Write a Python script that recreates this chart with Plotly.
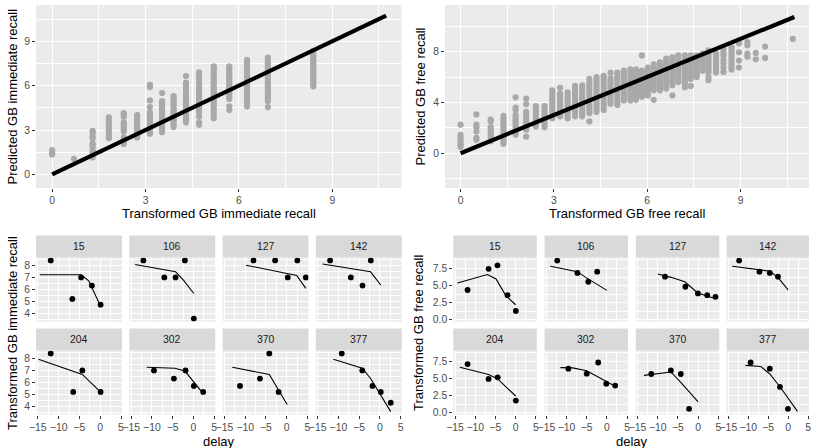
import plotly.graph_objects as go

# ---------------- data ----------------
identity_line = [0, 10.73]

imm_cols_x = [0.0, 0.7, 1.3, 1.82, 2.3, 2.73, 3.14, 3.53, 3.9, 4.3, 4.72, 5.19, 5.69, 6.26, 6.93, 8.39]
imm_cols_y = [
    [1.35, 1.45, 1.55, 1.65],
    [1.05],
    [1.15, 1.3, 1.5, 1.65, 1.85, 2.0, 2.1, 2.45, 2.55, 2.8, 2.95],
    [2.45, 2.6, 2.8, 3.0, 3.15, 3.3, 3.5, 3.65, 3.85],
    [2.05, 2.2, 2.35, 2.5, 2.9, 3.05, 3.2, 3.35, 3.5, 3.9, 4.05, 4.15],
    [2.5, 2.65, 2.8, 2.95, 3.1, 3.25, 3.4, 3.55, 3.7, 3.85, 4.0],
    [2.75, 2.9, 3.05, 3.2, 3.35, 3.5, 3.65, 3.8, 3.95, 4.1, 4.2, 4.55, 5.0, 5.9, 6.05],
    [2.85, 3.0, 3.15, 3.3, 3.45, 3.6, 3.75, 3.9, 4.05, 4.2, 4.35, 4.5, 4.65, 4.8, 4.95, 5.5],
    [3.2, 3.35, 3.5, 3.65, 3.8, 3.95, 4.1, 4.25, 4.4, 4.55, 4.7, 4.85, 5.0, 5.15, 5.3],
    [3.5, 3.65, 3.8, 3.95, 4.1, 4.25, 4.4, 4.55, 4.7, 4.85, 5.0, 5.15, 5.3, 5.5, 5.7, 5.85, 6.0, 6.2, 6.65],
    [3.35, 3.5, 3.9, 4.2, 4.35, 4.5, 4.65, 4.8, 4.95, 5.1, 5.25, 5.4, 5.55, 5.7, 5.85, 6.0, 6.2, 6.45, 6.7, 6.9],
    [3.8, 3.95, 4.15, 4.35, 4.5, 4.65, 4.8, 4.95, 5.1, 5.25, 5.4, 5.55, 5.7, 5.85, 6.0, 6.15, 6.3, 6.45,
     6.6, 6.75, 6.9, 7.05, 7.2, 7.3],
    [4.35, 4.6, 5.1, 5.25, 5.4, 5.55, 5.7, 5.85, 6.0, 6.15, 6.3, 6.45, 6.6, 6.75, 6.9, 7.05, 7.2, 7.3],
    [4.6, 4.75, 4.9, 5.05, 5.2, 5.35, 5.5, 5.65, 5.8, 5.95, 6.1, 6.25, 6.4, 6.55, 6.7, 6.85, 7.0, 7.15,
     7.3, 7.45, 7.6, 7.75],
    [4.55, 4.95, 5.1, 5.25, 5.4, 5.55, 5.7, 5.85, 6.0, 6.15, 6.3, 6.45, 6.6, 6.75, 6.9, 7.05, 7.2, 7.35,
     7.5, 7.65, 7.8, 7.9],
    [5.95, 6.1, 6.25, 6.4, 6.55, 6.7, 6.85, 7.0, 7.15, 7.3, 7.45, 7.6, 7.75, 7.9, 8.05, 8.2, 8.35],
]

free_cols_x = [0.0, 0.51, 0.97, 1.38, 1.77, 2.11, 2.42, 2.70, 2.95, 3.20, 3.44, 3.68, 3.91, 4.14, 4.37,
               4.60, 4.82, 5.04, 5.25, 5.46, 5.64, 5.83, 6.02, 6.21, 6.41, 6.61, 6.81, 7.0, 7.21, 7.40,
               7.59, 7.78, 7.97, 8.21, 8.45, 8.71, 8.95, 9.22, 9.49, 9.79, 10.68]
free_cols_y = [
    [0.5, 0.7, 0.9, 1.05, 1.25, 1.45, 2.25],
    [1.05, 1.2, 1.7, 2.05, 2.25, 3.05],
    [0.95, 1.15, 1.3, 1.5, 1.7, 1.85, 2.05, 2.5, 2.65],
    [0.75, 0.95, 1.15, 1.35, 1.55, 1.75, 1.95, 2.15, 2.35, 2.55, 2.75, 2.95],
    [1.45, 1.65, 1.85, 2.05, 2.25, 2.45, 2.65, 2.85, 3.0, 3.4, 3.6, 4.4],
    [1.3, 1.85, 2.05, 2.25, 2.45, 2.65, 2.85, 3.05, 3.25, 3.85, 4.3],
    [2.1, 2.3, 2.5, 2.7, 2.9, 3.1, 3.3, 3.5, 3.7],
    [2.05, 2.3, 2.5, 2.7, 2.9, 3.1, 3.3, 3.5, 3.7],
    [2.75, 2.95, 3.15, 3.35, 3.55, 3.75, 3.95, 4.15, 4.35, 4.55, 4.75, 4.95],
    [2.9, 3.1, 3.3, 3.5, 3.7, 3.9, 4.1, 4.3, 4.5, 4.7, 5.15],
    [2.75, 2.95, 3.15, 3.35, 3.55, 3.75, 3.95, 4.15, 4.35, 4.55, 4.8],
    [2.9, 3.1, 3.3, 3.5, 3.7, 3.9, 4.1, 4.3, 4.5, 4.7, 4.9, 5.1, 5.3],
    [2.9, 3.15, 3.35, 3.55, 3.75, 3.95, 4.15, 4.35, 4.55, 4.75, 4.95, 5.15, 5.35],
    [2.5, 3.15, 3.35, 3.55, 3.75, 3.95, 4.15, 4.35, 4.55, 4.75, 4.95, 5.15, 5.35, 5.55, 5.85],
    [3.25, 3.45, 3.65, 3.85, 4.05, 4.25, 4.45, 4.65, 4.85, 5.05, 5.25, 5.45, 5.65, 5.85, 6.0],
    [3.4, 3.6, 3.8, 4.0, 4.2, 4.4, 4.6, 4.8, 5.0, 5.2, 5.4, 5.6, 5.8, 6.0, 6.1],
    [3.9, 4.1, 4.3, 4.5, 4.7, 4.9, 5.1, 5.3, 5.5, 5.7, 5.9, 6.35],
    [3.8, 4.0, 4.2, 4.4, 4.6, 4.8, 5.0, 5.2, 5.4, 5.6, 5.8, 6.0, 6.2, 6.35],
    [4.15, 4.35, 4.55, 4.75, 4.95, 5.15, 5.35, 5.55, 5.75, 5.95, 6.15, 6.35, 6.5],
    [4.15, 4.35, 4.55, 4.75, 4.95, 5.15, 5.35, 5.55, 5.75, 5.95, 6.15, 6.35, 6.6],
    [4.2, 4.4, 4.6, 4.8, 5.0, 5.2, 5.4, 5.6, 5.8, 6.0, 6.2, 6.4, 6.6],
    [4.45, 4.65, 4.85, 5.05, 5.25, 5.45, 5.65, 5.85, 6.05, 6.25, 6.5, 7.7],
    [4.55, 4.75, 4.95, 5.15, 5.35, 5.55, 5.75, 5.95, 6.15, 6.35, 6.55, 6.75],
    [4.2, 4.95, 5.15, 5.35, 5.55, 5.75, 5.95, 6.15, 6.35, 6.55, 6.75, 7.0],
    [4.95, 5.15, 5.35, 5.55, 5.75, 5.95, 6.15, 6.35, 6.55, 6.75, 6.95, 7.15],
    [5.1, 5.3, 5.5, 5.7, 5.9, 6.1, 6.3, 6.5, 6.7, 6.9, 7.1, 7.3, 7.45],
    [4.55, 5.35, 5.55, 5.75, 5.95, 6.15, 6.35, 6.55, 6.75, 6.95, 7.15, 7.35, 7.55],
    [5.6, 5.8, 6.0, 6.2, 6.4, 6.6, 6.8, 7.0, 7.2, 7.4, 7.7],
    [5.2, 5.45, 5.65, 5.85, 6.05, 6.25, 6.45, 6.65, 6.85, 7.05, 7.25, 7.45, 7.7],
    [5.3, 5.85, 6.05, 6.25, 6.45, 6.65, 6.85, 7.05, 7.25, 7.45, 7.7],
    [6.0, 6.2, 6.4, 6.6, 6.8, 7.0, 7.2, 7.4, 7.7],
    [6.5, 6.7, 6.9, 7.1, 7.3, 7.5, 7.7, 7.85],
    [5.75, 6.0, 6.35, 6.55, 6.75, 6.95, 7.15, 7.35, 7.55, 7.75, 7.95, 8.1],
    [6.35, 6.55, 6.75, 6.95, 7.15, 7.35, 7.55, 7.75, 7.85],
    [6.4, 6.75, 7.1, 7.35, 7.7, 7.95, 8.2],
    [6.6, 6.8, 7.0, 7.2, 7.4, 7.6, 7.8, 8.0, 8.2, 8.35],
    [6.75, 7.3, 7.95, 8.65],
    [7.6, 7.85, 8.5, 8.75],
    [7.4, 7.9],
    [7.5, 8.4],
    [9.0],
]

subjects = ["15", "106", "127", "142", "204", "302", "370", "377"]

imm_pt_delay = [
    [-11.9, -6.7, -4.6, -2.0, 0.1],
    [-12.05, -7.0, -4.3, -2.05, 0.1],
    [-8.0, -2.8, 0.25, 2.55, 4.6],
    [-12.0, -7.0, -4.2, -2.2],
    [-11.9, -6.5, -4.3, 0.1],
    [-9.5, -4.7, -1.9, 0.1, 2.35],
    [-11.25, -6.45, -4.2, -1.95],
    [-9.2, -4.25, -1.8, 0.2, 2.6],
]
imm_pt_value = [
    [8.4, 5.19, 6.98, 6.3, 4.71],
    [8.4, 6.98, 6.98, 8.4, 3.55],
    [8.4, 8.4, 6.98, 8.4, 6.98],
    [8.4, 6.98, 6.3, 8.4],
    [8.4, 5.19, 6.98, 5.19],
    [6.98, 6.3, 6.98, 5.69, 5.19],
    [5.69, 6.3, 8.4, 5.19],
    [8.4, 6.98, 5.69, 5.19, 4.29],
]
imm_fit_delay = [
    [-14.5, -4.6, -2.75, 0.0],
    [-14.05, -4.3, -2.45, 0.1],
    [-9.8, 2.4, 4.6],
    [-13.8, -2.25, 0.2],
    [-14.85, -4.3, 0.1],
    [-11.25, -4.45, -2.05, 2.35],
    [-13.1, -4.2, 0.1],
    [-11.2, -4.25, -2.25, 2.6],
]
imm_fit_value = [
    [7.2, 7.2, 6.7, 4.65],
    [8.05, 7.45, 6.78, 5.64],
    [8.0, 7.15, 6.07],
    [8.1, 7.45, 6.35],
    [7.92, 6.65, 5.18],
    [7.24, 7.16, 6.93, 5.05],
    [7.24, 6.65, 4.14],
    [7.92, 7.16, 6.31, 3.55],
]

free_pt_delay = [
    [-11.9, -6.7, -4.5, -2.0, 0.05],
    [-12.3, -7.3, -4.6, -2.4],
    [-8.2, -3.15, -0.05, 2.25, 4.3],
    [-12.3, -7.2, -4.6, -2.55],
    [-11.9, -6.7, -4.45, 0.05],
    [-9.55, -5.0, -2.15, -0.15, 2.05],
    [-11.6, -6.75, -4.3, -2.25],
    [-9.4, -4.6, -2.05, -0.05],
]
free_pt_value = [
    [4.35, 7.45, 7.95, 3.6, 1.3],
    [8.65, 6.84, 5.56, 7.03],
    [6.3, 4.83, 3.85, 3.6, 3.35],
    [8.65, 7.03, 6.84, 6.3],
    [7.12, 4.94, 5.18, 1.79],
    [6.44, 5.71, 7.35, 4.26, 3.97],
    [5.67, 6.19, 5.67, 0.58],
    [7.35, 6.44, 3.78, 0.58],
]
free_fit_delay = [
    [-14.4, -7.0, -4.85, -2.4, 0.0],
    [-14.0, -7.3, -5.25, 0.0],
    [-10.0, -6.7, -3.3, -0.25, 2.25, 4.3],
    [-14.0, -7.2, -4.6, -2.55, 0.0],
    [-13.8, -6.7, -4.45, 0.0],
    [-11.5, -8.5, -5.0, -0.15, 2.05],
    [-13.4, -6.75, -4.3, 0.0],
    [-10.7, -6.9, -4.6, -2.05, 2.35],
]
free_fit_value = [
    [5.37, 6.62, 5.96, 3.5, 2.2],
    [7.82, 7.03, 6.2, 4.3],
    [6.7, 6.2, 5.56, 4.0, 3.45, 3.1],
    [7.82, 7.33, 7.1, 6.2, 4.38],
    [6.66, 5.6, 4.95, 2.45],
    [6.6, 6.56, 6.15, 4.5, 3.87],
    [5.47, 5.96, 4.45, 1.6],
    [6.92, 6.77, 5.67, 3.8, 0.2],
]

# ---------------- layout helpers ----------------
W, H = 814, 448
FONT = "Liberation Sans, Arial, Helvetica, sans-serif"
TICK_FONT = dict(family=FONT, size=10.4, color="#4D4D4D")
TITLE_FONT = dict(family=FONT, size=13, color="black")


def fx(p):
    return p / W


def fy(p):
    return 1 - p / H


def make_axis(rng, dtick, domain_px, anchor, show_labels, vertical=False, fmt=None):
    if vertical:
        dom = [fy(domain_px[1]), fy(domain_px[0])]
    else:
        dom = [fx(domain_px[0]), fx(domain_px[1])]
    ax = dict(
        range=rng, domain=dom, anchor=anchor, tickmode="linear", tick0=0, dtick=dtick,
        showgrid=True, gridcolor="white", gridwidth=1.1, zeroline=False, showline=False,
        minor=dict(tick0=0, dtick=dtick / 2, showgrid=True, gridcolor="white", gridwidth=0.5, ticks=""),
        ticks="outside" if show_labels else "", ticklen=3, tickwidth=1, tickcolor="#333333",
        showticklabels=show_labels, tickfont=TICK_FONT, fixedrange=True, tickangle=0,
        automargin=False,
    )
    if fmt:
        ax["tickformat"] = fmt
    return ax


fig = go.Figure()
layout_axes = {}
shapes = []
annotations = []


def flatten(cols_x, cols_y):
    xs, ys = [], []
    for xv, ylist in zip(cols_x, cols_y):
        xs += [xv] * len(ylist)
        ys += ylist
    return xs, ys


# ---------------- top panels ----------------
top_y = (5, 188)
top_specs = [
    (1, (36, 401.7), [-0.52, 11.23], [-0.92, 11.45], 3, imm_cols_x, imm_cols_y),
    (2, (445, 809), [-0.5, 11.2], [-2.74, 11.67], 4, free_cols_x, free_cols_y),
]
for idx, xdom, xr, yr, ydt, cx, cy in top_specs:
    sfx = "" if idx == 1 else str(idx)
    layout_axes["xaxis" + sfx] = make_axis(xr, 3, xdom, "y" + sfx, True)
    layout_axes["yaxis" + sfx] = make_axis(yr, ydt, top_y, "x" + sfx, True, vertical=True)
    xs, ys = flatten(cx, cy)
    fig.add_trace(go.Scatter(x=xs, y=ys, mode="markers", xaxis="x" + sfx, yaxis="y" + sfx,
                             marker=dict(size=6.2, color="#A9A9A9", line=dict(width=0)),
                             showlegend=False, hoverinfo="skip"))
    fig.add_trace(go.Scatter(x=identity_line, y=identity_line, mode="lines", xaxis="x" + sfx,
                             yaxis="y" + sfx, line=dict(color="black", width=4.2),
                             showlegend=False, hoverinfo="skip"))

annotations += [
    dict(text="Transformed GB immediate recall", x=fx(219), y=fy(213.5), showarrow=False,
         xref="paper", yref="paper", font=TITLE_FONT, xanchor="center", yanchor="middle"),
    dict(text="Predicted GB immediate recall", x=fx(12), y=fy(96.5), showarrow=False,
         xref="paper", yref="paper", font=TITLE_FONT, textangle=-90, xanchor="center", yanchor="middle"),
    dict(text="Transformed GB free recall", x=fx(627), y=fy(213.5), showarrow=False,
         xref="paper", yref="paper", font=TITLE_FONT, xanchor="center", yanchor="middle"),
    dict(text="Predicted GB free recall", x=fx(420), y=fy(96.5), showarrow=False,
         xref="paper", yref="paper", font=TITLE_FONT, textangle=-90, xanchor="center", yanchor="middle"),
]

# ---------------- facet panels ----------------
left_cols = [(36, 122), (129.3, 215.2), (222.6, 308.5), (315.8, 401.7)]
right_cols = [(453.3, 536.8), (544.6, 628.0), (635.8, 719.3), (726.6, 809.0)]
strip_rows = [(235.5, 257.5), (328.5, 350.5)]
panel_rows = [(257.5, 321.5), (350.5, 414.5)]
delay_range = [-15.44, 5.24]

groups = [
    (3, left_cols, [3.31, 8.64], 1, None, imm_pt_delay, imm_pt_value, imm_fit_delay, imm_fit_value),
    (11, right_cols, [-0.25, 9.1], 2.5, ".1f", free_pt_delay, free_pt_value, free_fit_delay, free_fit_value),
]
for start, cols, yr, ydt, yfmt, pd_, pv_, fd_, fv_ in groups:
    for k, subj in enumerate(subjects):
        r, c = divmod(k, 4)
        n = start + k
        sfx = str(n)
        layout_axes["xaxis" + sfx] = make_axis(delay_range, 5, cols[c], "y" + sfx, r == 1)
        layout_axes["yaxis" + sfx] = make_axis(yr, ydt, panel_rows[r], "x" + sfx, c == 0,
                                               vertical=True, fmt=yfmt)
        fig.add_trace(go.Scatter(x=fd_[k], y=fv_[k], mode="lines", xaxis="x" + sfx, yaxis="y" + sfx,
                                 line=dict(color="black", width=1.1), showlegend=False,
                                 hoverinfo="skip"))
        fig.add_trace(go.Scatter(x=pd_[k], y=pv_[k], mode="markers", xaxis="x" + sfx, yaxis="y" + sfx,
                                 marker=dict(size=5.8, color="black"), showlegend=False,
                                 hoverinfo="skip"))
        x0, x1 = cols[c]
        s0, s1 = strip_rows[r]
        shapes.append(dict(type="rect", xref="paper", yref="paper", x0=fx(x0), x1=fx(x1),
                           y0=fy(s1), y1=fy(s0), fillcolor="#D9D9D9", line=dict(width=0)))
        annotations.append(dict(text=subj, x=fx((x0 + x1) / 2), y=fy((s0 + s1) / 2), showarrow=False,
                                xref="paper", yref="paper", xanchor="center", yanchor="middle",
                                font=dict(family=FONT, size=10.4, color="#1A1A1A")))

annotations += [
    dict(text="delay", x=fx(218.5), y=fy(441.5), showarrow=False, xref="paper", yref="paper",
         font=TITLE_FONT, xanchor="center", yanchor="middle"),
    dict(text="delay", x=fx(631.5), y=fy(441.5), showarrow=False, xref="paper", yref="paper",
         font=TITLE_FONT, xanchor="center", yanchor="middle"),
    dict(text="Transformed GB immediate recall", x=fx(12), y=fy(333), showarrow=False,
         xref="paper", yref="paper", font=TITLE_FONT, textangle=-90, xanchor="center", yanchor="middle"),
    dict(text="Transformed GB free recall", x=fx(418), y=fy(333), showarrow=False,
         xref="paper", yref="paper", font=TITLE_FONT, textangle=-90, xanchor="center", yanchor="middle"),
]

fig.update_layout(
    width=W, height=H, margin=dict(l=0, r=0, t=0, b=0, pad=0),
    paper_bgcolor="white", plot_bgcolor="#EBEBEB",
    font=dict(family=FONT), showlegend=False, hovermode=False,
    shapes=shapes, annotations=annotations, **layout_axes,
)

fig.write_html("out.html", config={"displayModeBar": False})
